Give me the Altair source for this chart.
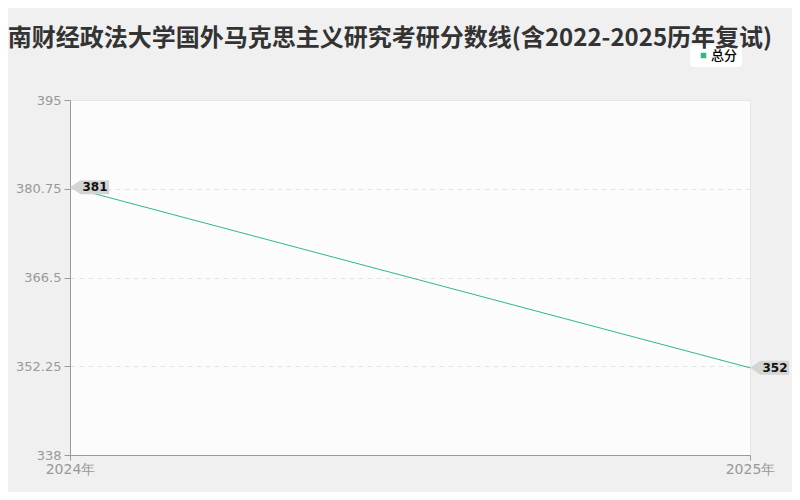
import altair as alt
import pandas as pd

years = [2024, 2025]
scores = [381, 352]
series = ["总分", "总分"]
y_ticks = [338, 352.25, 366.5, 380.75, 395]

df = pd.DataFrame({"year": years, "score": scores, "series": series})

FONT = "Noto Sans CJK SC"
NUMFONT = "DejaVu Sans"
GREEN = "#2cb98a"
CALLOUT = "M0,0 L1.5,-1 L5.6,-1 L5.6,1 L1.5,1 Z"

x = alt.X(
    "year:Q",
    scale=alt.Scale(domain=[2024, 2025], nice=False, zero=False),
    axis=alt.Axis(
        values=years, labelExpr="datum.value + '年'", title=None, grid=False,
        labelFont=NUMFONT, labelFontSize=14, labelColor="#999999",
        domainColor="#999999", tickColor="#999999", tickSize=5, labelPadding=2,
        labelFlush=False,
    ),
)
y = alt.Y(
    "score:Q",
    scale=alt.Scale(domain=[338, 395], nice=False, zero=False),
    axis=alt.Axis(
        values=y_ticks, labelExpr="'' + datum.value", title=None,
        grid=True, gridDash=[5, 4], gridColor="#e4e4e4",
        labelFont=NUMFONT, labelFontSize=13, labelColor="#999999",
        domainColor="#999999", tickColor="#999999", tickSize=6, labelPadding=3,
    ),
)

base = alt.Chart(df).encode(x=x, y=y)

line = base.mark_line(strokeWidth=1).encode(
    color=alt.Color(
        "series:N",
        scale=alt.Scale(range=[GREEN]),
        legend=alt.Legend(
            title=None, orient="none", legendX=620, legendY=-55,
            fillColor="#ffffff", cornerRadius=4, padding=4,
            symbolType="square", symbolSize=30, symbolFillColor=GREEN,
            symbolStrokeWidth=0, symbolOffset=3, labelOffset=1,
            labelFont=FONT, labelFontSize=13, labelColor="#000000",
            labelFontWeight=500,
            labelExpr="datum.label + '   '",
        ),
    )
)

callout = base.mark_point(
    shape=CALLOUT, size=196, filled=True, fill="#d4d4d4", opacity=1, strokeWidth=0
)

labels = base.mark_text(
    dx=25, align="center", baseline="middle", font=NUMFONT, fontSize=12,
    fontWeight="bold", color="#111111",
).encode(text="score:Q")

chart = (
    alt.layer(line, callout, labels)
    .properties(
        width=680,
        height=355,
        autosize=alt.AutoSizeParams(type="none"),
        padding={"left": 62, "top": 92, "right": 42, "bottom": 37},
        background="#f0f0f0",
        title=alt.TitleParams(
            "中南财经政法大学国外马克思主义研究考研分数线(含2022-2025历年复试)",
            font=FONT, fontSize=24, fontWeight="bold", color="#333333",
            anchor="middle", dx=-32, dy=37, baseline="middle", offset=19,
        ),
    )
    .configure_view(fill="#fcfcfc", stroke="#e6e6e6")
)

chart.save("out.html", embed_options={"renderer": "svg", "actions": False})
